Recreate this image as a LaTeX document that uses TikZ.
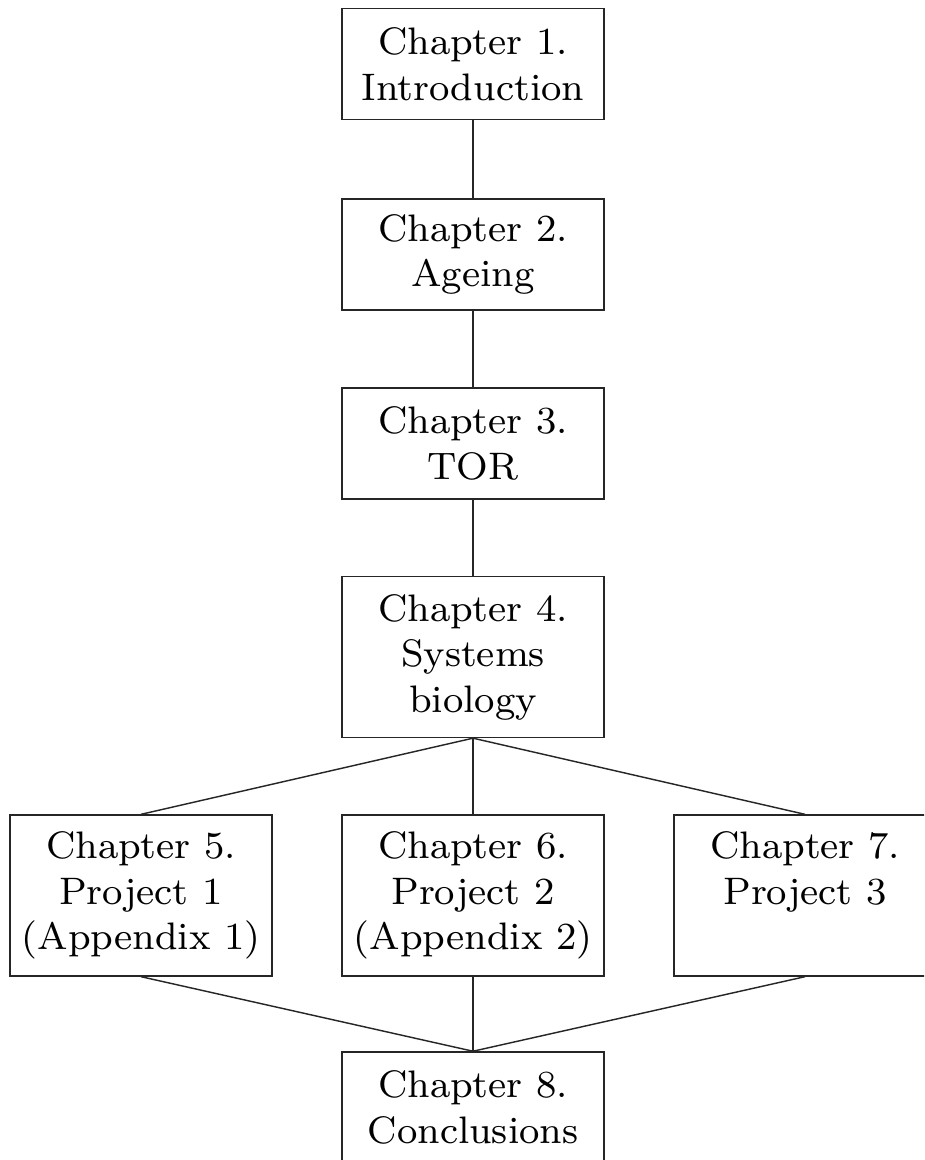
\documentclass[tikz,border=0pt]{standalone}
\usepackage{tikz}
\usetikzlibrary{positioning}
\tikzset{
	chapter/.style={draw=black!85, line width=0.3pt, align=center, font=\footnotesize,
		minimum width=54.7pt, minimum height=23.2pt, inner sep=0pt},
	tallchapter/.style={chapter, minimum height=33.6pt}
}

\begin{document}
\begin{tikzpicture}[x=0.2088pt, y=-0.2088pt, line width=0.3pt]

	\useasboundingbox (0,0) rectangle (924,1160);
	\clip (0,0) rectangle (924,1160);

	\node[chapter](intro) at (473, 64) {Chapter 1.\\Introduction};

	\node[chapter](ageing) at (473, 254.5) {Chapter 2.\\Ageing};

	\node[chapter](tor) at (473, 443.5) {Chapter 3.\\TOR};

	\node[tallchapter](sysbio) at (473, 657) {Chapter 4.\\Systems\\biology};

	% Projects

	\node[tallchapter](project1) at (141, 895.5) {Chapter 5.\\Project 1\\(Appendix 1)};

	\node[tallchapter](project2) at (473, 895.5) {Chapter 6.\\Project 2\\(Appendix 2)};

	\node[tallchapter, text depth=11.5pt](project3) at (805, 895.5) {Chapter 7.\\Project 3};

	\node[chapter](concl) at (473, 1107.5) {Chapter 8.\\Conclusions};

	% Lines

	\draw[black!85] (intro) to (ageing);
	\draw[black!85] (ageing) to (tor);
	\draw[black!85] (tor) to (sysbio);

	\draw[black!85] (sysbio.south) to (project1.north);
	\draw[black!85] (sysbio.south) to (project2.north);
	\draw[black!85] (sysbio.south) to (project3.north);

	\draw[black!85] (project1.south) to (concl.north);
	\draw[black!85] (project2.south) to (concl.north);
	\draw[black!85] (project3.south) to (concl.north);

\end{tikzpicture}
\end{document}
